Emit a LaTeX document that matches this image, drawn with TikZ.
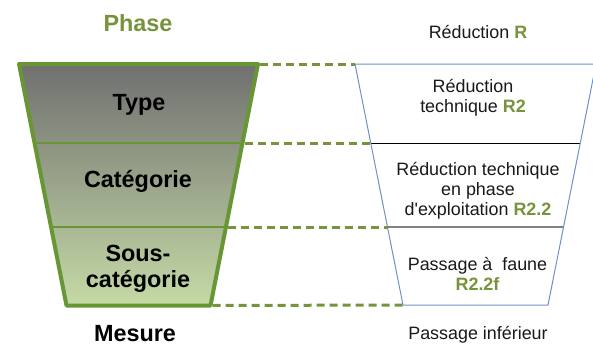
\documentclass[tikz,border=0pt]{standalone}
\usepackage{fontspec}
\setmainfont{Liberation Sans}[Ligatures=TeXOff]
\definecolor{olivetxt}{RGB}{119,147,60}
\definecolor{outl}{RGB}{104,150,52}
\definecolor{topgray}{RGB}{112,112,112}
\definecolor{botgreen}{RGB}{197,218,166}
\definecolor{blueline}{RGB}{110,145,200}
\begin{document}
\begin{tikzpicture}[x=1pt,y=-1pt,
  bigtxt/.style={font=\fontsize{23.4}{26}\selectfont\bfseries, inner sep=0pt, align=center, anchor=base},
  smalltxt/.style={font=\fontsize{17.9}{20}\selectfont, inner sep=0pt, align=center, anchor=base, text=black!90},
  link/.style={draw=olivetxt, line width=3pt, dash pattern=on 8pt off 5pt},
  funnelL/.style={draw=outl, line width=4pt, line join=round},
  divL/.style={draw=outl, line width=2.5pt},
  funnelR/.style={draw=blueline, line width=1pt},
]
\useasboundingbox (0,0) rectangle (593,345);
\begin{scope}
\clip (0,0) rectangle (593,345);
% left funnel corners
\coordinate (LT1) at (19,64);
\coordinate (LT2) at (258,64);
\coordinate (LB2) at (210.5,305.5);
\coordinate (LB1) at (66.5,305.5);
\coordinate (LA1) at (34.6,143);
\coordinate (LA2) at (242.5,143);
\coordinate (LC1) at (51.1,227);
\coordinate (LC2) at (225.9,227);
% right funnel corners
\coordinate (RT1) at (355,64);
\coordinate (RT2) at (596,64);
\coordinate (RB2) at (548,305);
\coordinate (RB1) at (403,305);
\coordinate (RA1) at (370.7,143);
\coordinate (RA2) at (580.3,143);
\coordinate (RC1) at (387.5,227);
\coordinate (RC2) at (563.5,227);

\shade[top color=topgray, bottom color=botgreen] (LT1) -- (LT2) -- (LB2) -- (LB1) -- cycle;
\draw[divL] (LA1) -- (LA2);
\draw[divL] (LC1) -- (LC2);
\draw[funnelL] (LT1) -- (LT2) -- (LB2) -- (LB1) -- cycle;

\draw[black, line width=1pt] (RA1) -- (RA2);
\draw[black!50, line width=2.2pt] (RC1) -- (RC2);
\draw[funnelR] (RT1) -- (RT2) -- (RB2) -- (RB1) -- cycle;

\draw[link] ([xshift=2pt]LT2) -- (RT1);
\draw[link] ([xshift=2pt]LA2) -- (RA1);
\draw[link] ([xshift=2pt]LC2) -- (RC1);
\draw[link] ([xshift=2pt]LB2) -- (RB1);
\end{scope}

\node[bigtxt, text=olivetxt] (phase) at (138,31) {Phase};
\node[bigtxt] (type) at (139,110) {Type};
\node[bigtxt] (cat) at (138,187) {Catégorie};
\node[bigtxt] (souscat) at (138,287) {Sous-\\catégorie};
\node[bigtxt] (mesure) at (135,341) {Mesure};

\node[smalltxt] (redR) at (478,38) {Réduction \textcolor{olivetxt}{\bfseries R}};
\node[smalltxt] (redR2) at (473,112) {Réduction\\technique \textcolor{olivetxt}{\bfseries R2}};
\node[smalltxt] (redR22) at (478,215) {Réduction technique\\en phase\\d'exploitation \textcolor{olivetxt}{\bfseries R2.2}};
\node[smalltxt] (passf) at (477.5,290) {Passage à\ \ faune\\\textcolor{olivetxt}{\bfseries R2.2f}};
\node[smalltxt] (passinf) at (478,339) {Passage inférieur};
\end{tikzpicture}
\end{document}
